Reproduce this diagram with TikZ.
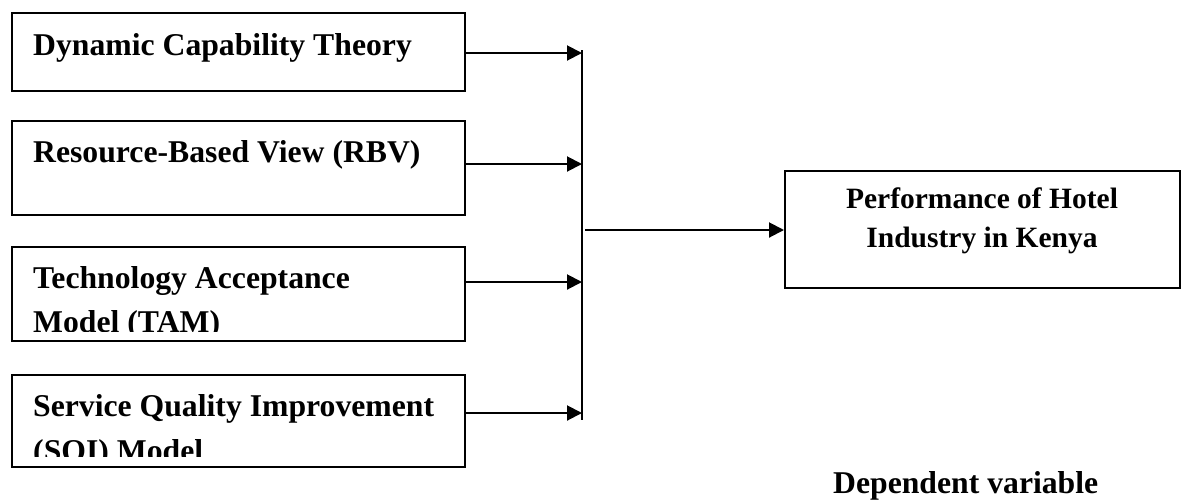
\documentclass[tikz,border=0pt]{standalone}
\usepackage{fontspec}
\setmainfont{Liberation Serif}
\usetikzlibrary{arrows.meta}
\begin{document}
\begin{tikzpicture}[x=1pt,y=-1pt,
  box/.style={draw, line width=1.7pt, rectangle, inner sep=0pt, anchor=north west},
  lbl/.style={font=\fontsize{31.7}{45}\selectfont\bfseries, inner sep=0pt, anchor=base west},
  rlbl/.style={font=\fontsize{29.5}{39}\selectfont\bfseries, inner sep=0pt, anchor=base},
  conn/.style={line width=2pt, -{Triangle[length=15pt,width=15pt]}},
  bus/.style={line width=2pt},
]
\useasboundingbox (0,0) rectangle (1181,499);
% boxes
\node[box, minimum width=453pt, minimum height=78pt] (b1) at (11,12) {};
\node[box, minimum width=453pt, minimum height=94pt] (b2) at (11,120) {};
\node[box, minimum width=453pt, minimum height=94pt] (b3) at (11,246) {};
\node[box, minimum width=453pt, minimum height=92pt] (b4) at (11,374) {};
\node[box, minimum width=395pt, minimum height=117pt] (out) at (784,170) {};
% texts
\node[lbl] (t1) at (33,55) {Dynamic Capability Theory};
\node[lbl] (t2) at (33,162) {Resource-Based View (RBV)};
\begin{scope}
  \clip (11,246) rectangle (464,331);
  \node[lbl] (t3a) at (33,288) {Technology Acceptance};
  \node[lbl] (t3b) at (33,332) {Model (TAM)};
\end{scope}
\begin{scope}
  \clip (11,374) rectangle (464,456);
  \node[lbl] (t4a) at (33,416) {Service Quality Improvement};
  \node[lbl] (t4b) at (33,461) {(SQI) Model};
\end{scope}
\node[rlbl] (o1) at (982,208) {Performance of Hotel};
\node[rlbl] (o2) at (982,247) {Industry in Kenya};
\node[lbl] (dv) at (833,493) {Dependent variable};
% bus and connectors
\coordinate (bt) at (582,50);
\coordinate (bb) at (582,420);
\draw[bus] (bt) -- (bb);
\coordinate (j1) at (582,53);
\coordinate (j2) at (582,164);
\coordinate (j3) at (582,282);
\coordinate (j4) at (582,413);
\draw[conn] (b1.east |- j1) -- (j1);
\draw[conn] (b2.east |- j2) -- (j2);
\draw[conn] (b3.east |- j3) -- (j3);
\draw[conn] (b4.east |- j4) -- (j4);
\coordinate (m) at (585,230);
\draw[conn] (m) -- (out.west |- m);
\end{tikzpicture}
\end{document}
